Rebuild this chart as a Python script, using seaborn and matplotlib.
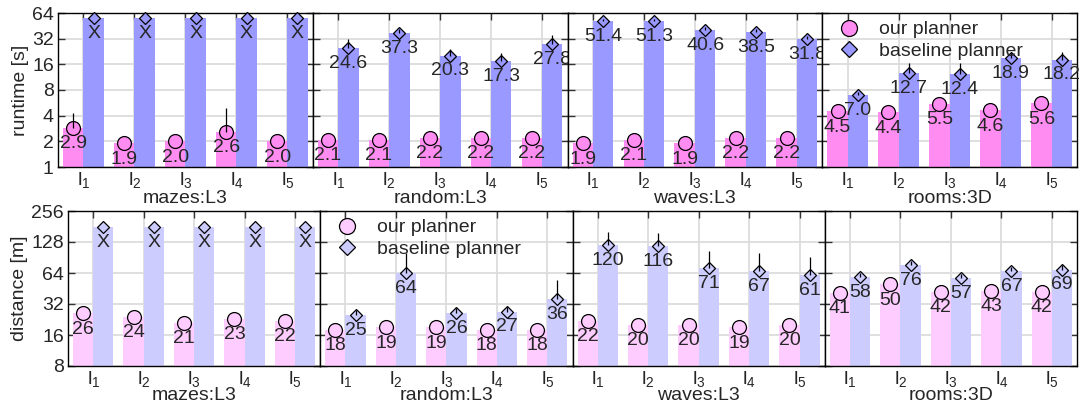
import numpy as np
import pandas as pd
import matplotlib
matplotlib.use("Agg")
import matplotlib.pyplot as plt
from matplotlib.lines import Line2D
from matplotlib.ticker import NullLocator
import seaborn as sns

# ---- data -------------------------------------------------------------
instances = ["l$_1$", "l$_2$", "l$_3$", "l$_4$", "l$_5$"]
scenarios = ["mazes:L3", "random:L3", "waves:L3", "rooms:3D"]
planners = ["our planner", "baseline planner"]

# runtime [s]  (None = baseline timed out, drawn at the cap and marked "X")
runtime_ours = [
    [2.9, 1.9, 2.0, 2.6, 2.0],
    [2.1, 2.1, 2.2, 2.2, 2.2],
    [1.9, 2.1, 1.9, 2.2, 2.2],
    [4.5, 4.4, 5.5, 4.6, 5.6],
]
runtime_ours_hi = [
    [4.3, 1.9, 2.0, 4.9, 2.0],
    [2.1, 2.1, 2.2, 2.2, 2.2],
    [1.9, 2.1, 1.9, 2.2, 2.2],
    [4.5, 4.4, 5.5, 4.6, 5.6],
]
runtime_base = [
    [None, None, None, None, None],
    [24.6, 37.3, 20.3, 17.3, 27.8],
    [51.4, 51.3, 40.6, 38.5, 31.8],
    [7.0, 12.7, 12.4, 18.9, 18.2],
]
runtime_base_hi = [
    [None, None, None, None, None],
    [32.0, 42.0, 24.0, 21.5, 35.0],
    [55.0, 55.0, 43.5, 41.0, 34.0],
    [7.6, 16.5, 16.5, 21.6, 22.2],
]
runtime_timeout = 56
runtime_ticks = [1, 2, 4, 8, 16, 32, 64]

# travelled distance [m]
distance_ours = [
    [26, 24, 21, 23, 22],
    [18, 19, 19, 18, 18],
    [22, 20, 20, 19, 20],
    [41, 50, 42, 43, 42],
]
distance_ours_hi = [
    [26, 24, 21, 23, 22],
    [18, 19, 19, 18, 18],
    [22, 20, 20, 19, 20],
    [41, 50, 42, 43, 42],
]
distance_base = [
    [None, None, None, None, None],
    [25, 64, 26, 27, 36],
    [120, 116, 71, 67, 61],
    [58, 76, 57, 67, 69],
]
distance_base_hi = [
    [None, None, None, None, None],
    [28, 100, 29, 30, 55],
    [160, 157, 104, 100, 91],
    [64, 84, 63, 74, 76],
]
distance_timeout = 180
distance_ticks = [8, 16, 32, 64, 128, 256]

# ---- style ------------------------------------------------------------
PINK_DARK, BLUE_DARK = "#FF8CF0", "#9999FF"
PINK_LIGHT, BLUE_LIGHT = "#FFCCFF", "#CCCCFF"

sns.set_theme(style="whitegrid")
plt.rcParams.update({
    "font.family": ["Liberation Sans", "DejaVu Sans"],
    "mathtext.fontset": "custom",
    "mathtext.rm": "Liberation Sans",
    "mathtext.it": "Liberation Sans:italic",
    "mathtext.default": "regular",
    "font.size": 14,
    "axes.edgecolor": "black",
    "axes.linewidth": 1.0,
})

W, H = 1086, 405
fig = plt.figure(figsize=(W / 100, H / 100), dpi=100)


def add_row(left, right, top, bottom):
    w = (right - left) / 4
    return [fig.add_axes([(left + k * w) / W, 1 - bottom / H, w / W, (bottom - top) / H])
            for k in range(4)]


def draw_row(axes, ours, ours_hi, base, base_hi, timeout, colors, ticks, ylabel,
             fmt, legend_panel, ms_circle, ms_diamond, xlabel_pad):
    x = np.arange(len(instances))
    for k, ax in enumerate(axes):
        base_vals = [timeout if v is None else v for v in base[k]]
        df = pd.DataFrame({
            "instance": instances * 2,
            "planner": [planners[0]] * 5 + [planners[1]] * 5,
            "value": list(ours[k]) + base_vals,
        })
        sns.barplot(data=df, x="instance", y="value", hue="planner", hue_order=planners,
                    palette=colors, width=0.8, errorbar=None, saturation=1, log_scale=2,
                    legend=False, linewidth=0, ax=ax, zorder=2)

        ax.plot(x - 0.2, ours[k], "o", ms=ms_circle, mfc=colors[0], mec="black",
                mew=0.9, zorder=4, clip_on=False)
        ax.plot(x + 0.2, base_vals, "D", ms=ms_diamond, mfc=colors[1], mec="black",
                mew=0.9, zorder=4, clip_on=False)

        ax.vlines(x - 0.2, ours[k], ours_hi[k], color="black", lw=0.9, zorder=5)
        for i in range(5):
            if base[k][i] is not None:
                ax.vlines(x[i] + 0.2, base[k][i], base_hi[k][i], color="black", lw=0.9, zorder=5)

        for i in range(5):
            ax.annotate(fmt(ours[k][i]), (x[i] - 0.2, ours[k][i]), xytext=(0, -11.5),
                        textcoords="offset points", ha="center", va="center",
                        fontsize=14, zorder=6)
            lab = "X" if base[k][i] is None else fmt(base[k][i])
            ax.annotate(lab, (x[i] + 0.2, base_vals[i]), xytext=(0, -11),
                        textcoords="offset points", ha="center", va="center",
                        fontsize=14, zorder=6)

        ax.set_yscale("log", base=2)
        ax.set_ylim(ticks[0], ticks[-1])
        ax.set_yticks(ticks)
        ax.set_yticklabels([str(t) for t in ticks])
        ax.yaxis.set_minor_locator(NullLocator())
        ax.set_xlim(-0.5, 4.5)
        ax.set_xticks(x)
        ax.set_xticklabels(instances)

        ax.grid(True, which="major", color="#dcdcdc", lw=1.3)
        ax.set_axisbelow(True)
        for s in ax.spines.values():
            s.set_visible(True)
            s.set_color("black")
            s.set_linewidth(1.0)

        ax.tick_params(axis="x", which="both", direction="in", bottom=False, top=True,
                       length=5, width=1, color="#333333", labelbottom=True,
                       labelsize=14, pad=2)
        ax.tick_params(axis="y", which="both", direction="in", left=True, right=True,
                       length=5, width=1, color="#333333", labelsize=14, pad=3,
                       labelleft=(k == 0))
        ax.set_xlabel(scenarios[k], fontsize=14, labelpad=xlabel_pad)
        ax.set_ylabel(ylabel if k == 0 else "", fontsize=14, labelpad=2)

    handles = [
        Line2D([], [], ls="none", marker="o", ms=ms_circle + 1.5, mfc=colors[0], mec="black", mew=0.9),
        Line2D([], [], ls="none", marker="D", ms=ms_diamond + 1.2, mfc=colors[1], mec="black", mew=0.9),
    ]
    axes[legend_panel].legend(handles, planners, loc="upper left", frameon=False,
                              fontsize=14, handletextpad=0.5, labelspacing=0.2,
                              borderaxespad=0.1, borderpad=0.3)


top_axes = add_row(58, 1077, 13, 167)
bottom_axes = add_row(68, 1077, 211, 366)

draw_row(top_axes, runtime_ours, runtime_ours_hi, runtime_base, runtime_base_hi,
         runtime_timeout, [PINK_DARK, BLUE_DARK], runtime_ticks, "runtime [s]",
         lambda v: f"{v:.1f}", 3, 10, 6.6, 0.5)
draw_row(bottom_axes, distance_ours, distance_ours_hi, distance_base, distance_base_hi,
         distance_timeout, [PINK_LIGHT, BLUE_LIGHT], distance_ticks, "distance [m]",
         lambda v: f"{v:d}", 1, 10, 6.6, -1)

fig.savefig("out.png", dpi=100)
